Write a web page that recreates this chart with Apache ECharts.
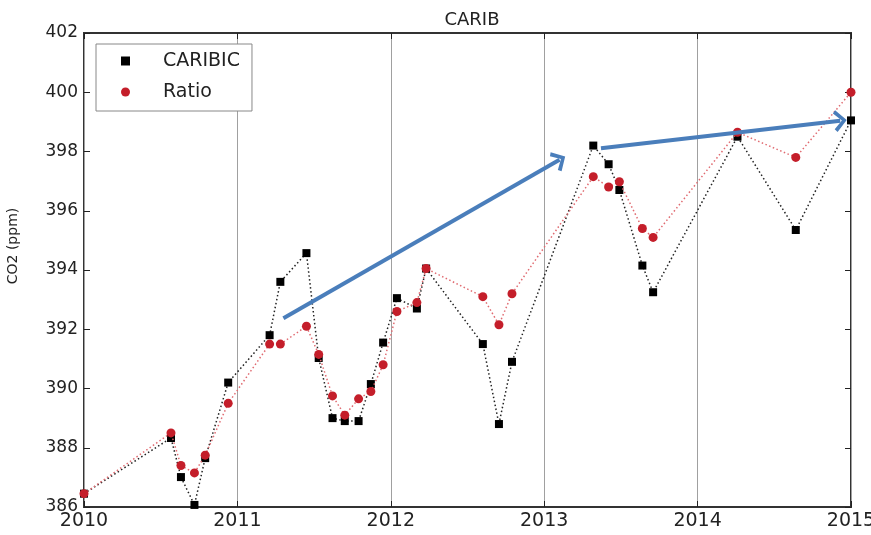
<!DOCTYPE html>
<html>
<head>
<meta charset="utf-8">
<script src="https://cdn.jsdelivr.net/npm/echarts@6/dist/echarts.min.js"></script>
<style>
  html, body { margin: 0; padding: 0; background: #fff; }
  #chart { width: 871px; height: 535px; }
</style>
</head>
<body>
<div id="chart"></div>
<script>
// Sampling dates (decimal years) shared by both series
const dates = [
  2010.00, 2010.567, 2010.632, 2010.72, 2010.79, 2010.94,
  2011.21, 2011.28, 2011.45, 2011.53, 2011.62, 2011.70, 2011.79, 2011.87, 2011.95,
  2012.04, 2012.17, 2012.23, 2012.60, 2012.705, 2012.79,
  2013.32, 2013.42, 2013.49, 2013.64, 2013.71,
  2014.26, 2014.64, 2015.00
];
// CO2 mixing ratios (ppm)
const caribic = [
  386.45, 388.33, 387.01, 386.07, 387.65, 390.2,
  391.8, 393.6, 394.57, 391.03, 389.0, 388.9, 388.9, 390.15, 391.55,
  393.05, 392.7, 394.05, 391.5, 388.8, 390.9,
  398.2, 397.57, 396.7, 394.15, 393.25,
  398.5, 395.35, 399.05
];
const ratio = [
  386.45, 388.5, 387.4, 387.15, 387.75, 389.5,
  391.5, 391.5, 392.1, 391.15, 389.75, 389.1, 389.65, 389.9, 390.8,
  392.6, 392.9, 394.05, 393.1, 392.15, 393.2,
  397.15, 396.8, 396.98, 395.4, 395.1,
  398.65, 397.8, 400.0
];
// Trend arrows: [startYear, startPpm, endYear, endPpm]
const arrows = [
  [2011.30, 392.37, 2013.10, 397.72],
  [2013.37, 398.11, 2014.93, 399.04]
];
const yearTicks = ['2010', '2011', '2012', '2013', '2014', '2015'];

const FONT = 'DejaVu Sans';
const pair = (xs, ys) => xs.map((x, i) => [x, ys[i]]);
const chevron = 'path://M10,0 L20,9 L17.2,11.2 L10,4.2 L2.8,11.2 L0,9 Z';

const chart = echarts.init(document.getElementById('chart'), null, { renderer: 'canvas' });

const xBase = {
  type: 'value', min: 2010, max: 2015, interval: 1,
  axisLine: { show: false },
  axisTick: { show: true, inside: true, length: 6, lineStyle: { color: '#222' } }
};
const yBase = {
  type: 'value', min: 386, max: 402, interval: 2,
  axisLine: { show: false },
  splitLine: { show: false },
  axisTick: { show: true, inside: true, length: 6, lineStyle: { color: '#222' } }
};

chart.setOption({
  animation: false,
  backgroundColor: '#fff',
  textStyle: { fontFamily: FONT },
  title: {
    text: 'CARIB', left: 467, top: 6, textAlign: 'center',
    textStyle: { fontFamily: FONT, fontSize: 18, fontWeight: 'normal', color: '#222' }
  },
  grid: {
    left: 84, right: 20, top: 33, bottom: 28,
    containLabel: false, outerBoundsMode: 'none',
    show: true, borderColor: '#333', borderWidth: 2, backgroundColor: 'transparent'
  },
  legend: {
    orient: 'vertical', left: 96, top: 44,
    padding: [6, 12, 8, 25], itemGap: 9,
    itemWidth: 9, itemHeight: 9,
    backgroundColor: '#fff', borderColor: '#888', borderWidth: 1,
    textStyle: { fontFamily: FONT, fontSize: 19, color: '#222', lineHeight: 22, padding: [0, 0, 0, 28] },
    data: [
      { name: 'CARIBIC', icon: 'rect', itemStyle: { color: '#000' } },
      { name: 'Ratio', icon: 'circle', itemStyle: { color: '#c41e2a' } }
    ]
  },
  xAxis: [
    Object.assign({}, xBase, {
      position: 'bottom',
      axisLabel: {
        fontFamily: FONT, fontSize: 19, color: '#222', margin: 5,
        formatter: v => yearTicks[Math.round(v - 2010)]
      },
      splitLine: { show: true, lineStyle: { color: '#a0a0a0', width: 1 } }
    }),
    Object.assign({}, xBase, {
      position: 'top', axisLabel: { show: false }, splitLine: { show: false }
    })
  ],
  yAxis: [
    Object.assign({}, yBase, {
      position: 'left',
      axisLabel: { fontFamily: FONT, fontSize: 17, color: '#222', margin: 6 }
    }),
    Object.assign({}, yBase, { position: 'right', axisLabel: { show: false } })
  ],
  graphic: [{
    type: 'text', rotation: Math.PI / 2,
    x: 13, y: 246,
    style: { text: 'CO2 (ppm)', font: '14px ' + FONT, fill: '#222', align: 'center', verticalAlign: 'middle' }
  }],
  series: [
    {
      name: 'CARIBIC', type: 'line', z: 3,
      data: pair(dates, caribic),
      symbol: 'rect', symbolSize: 8,
      itemStyle: { color: '#000' },
      lineStyle: { color: '#222', width: 1.5, type: [1.5, 2.5] },
      clip: true
    },
    {
      name: 'Ratio', type: 'line', z: 4,
      data: pair(dates, ratio),
      symbol: 'circle', symbolSize: 9,
      itemStyle: { color: '#c41e2a' },
      lineStyle: { color: '#e06a70', width: 1.5, type: [1.5, 2.5] },
      clip: true
    },
    {
      name: 'trend', type: 'line', z: 6, data: [],
      markLine: {
        silent: true, animation: false,
        symbol: ['none', chevron], symbolSize: [22, 13],
        label: { show: false },
        lineStyle: { color: '#4a7ebb', width: 4, type: 'solid' },
        data: arrows.map(a => [{ coord: [a[0], a[1]] }, { coord: [a[2], a[3]] }])
      }
    }
  ]
});
</script>
</body>
</html>
